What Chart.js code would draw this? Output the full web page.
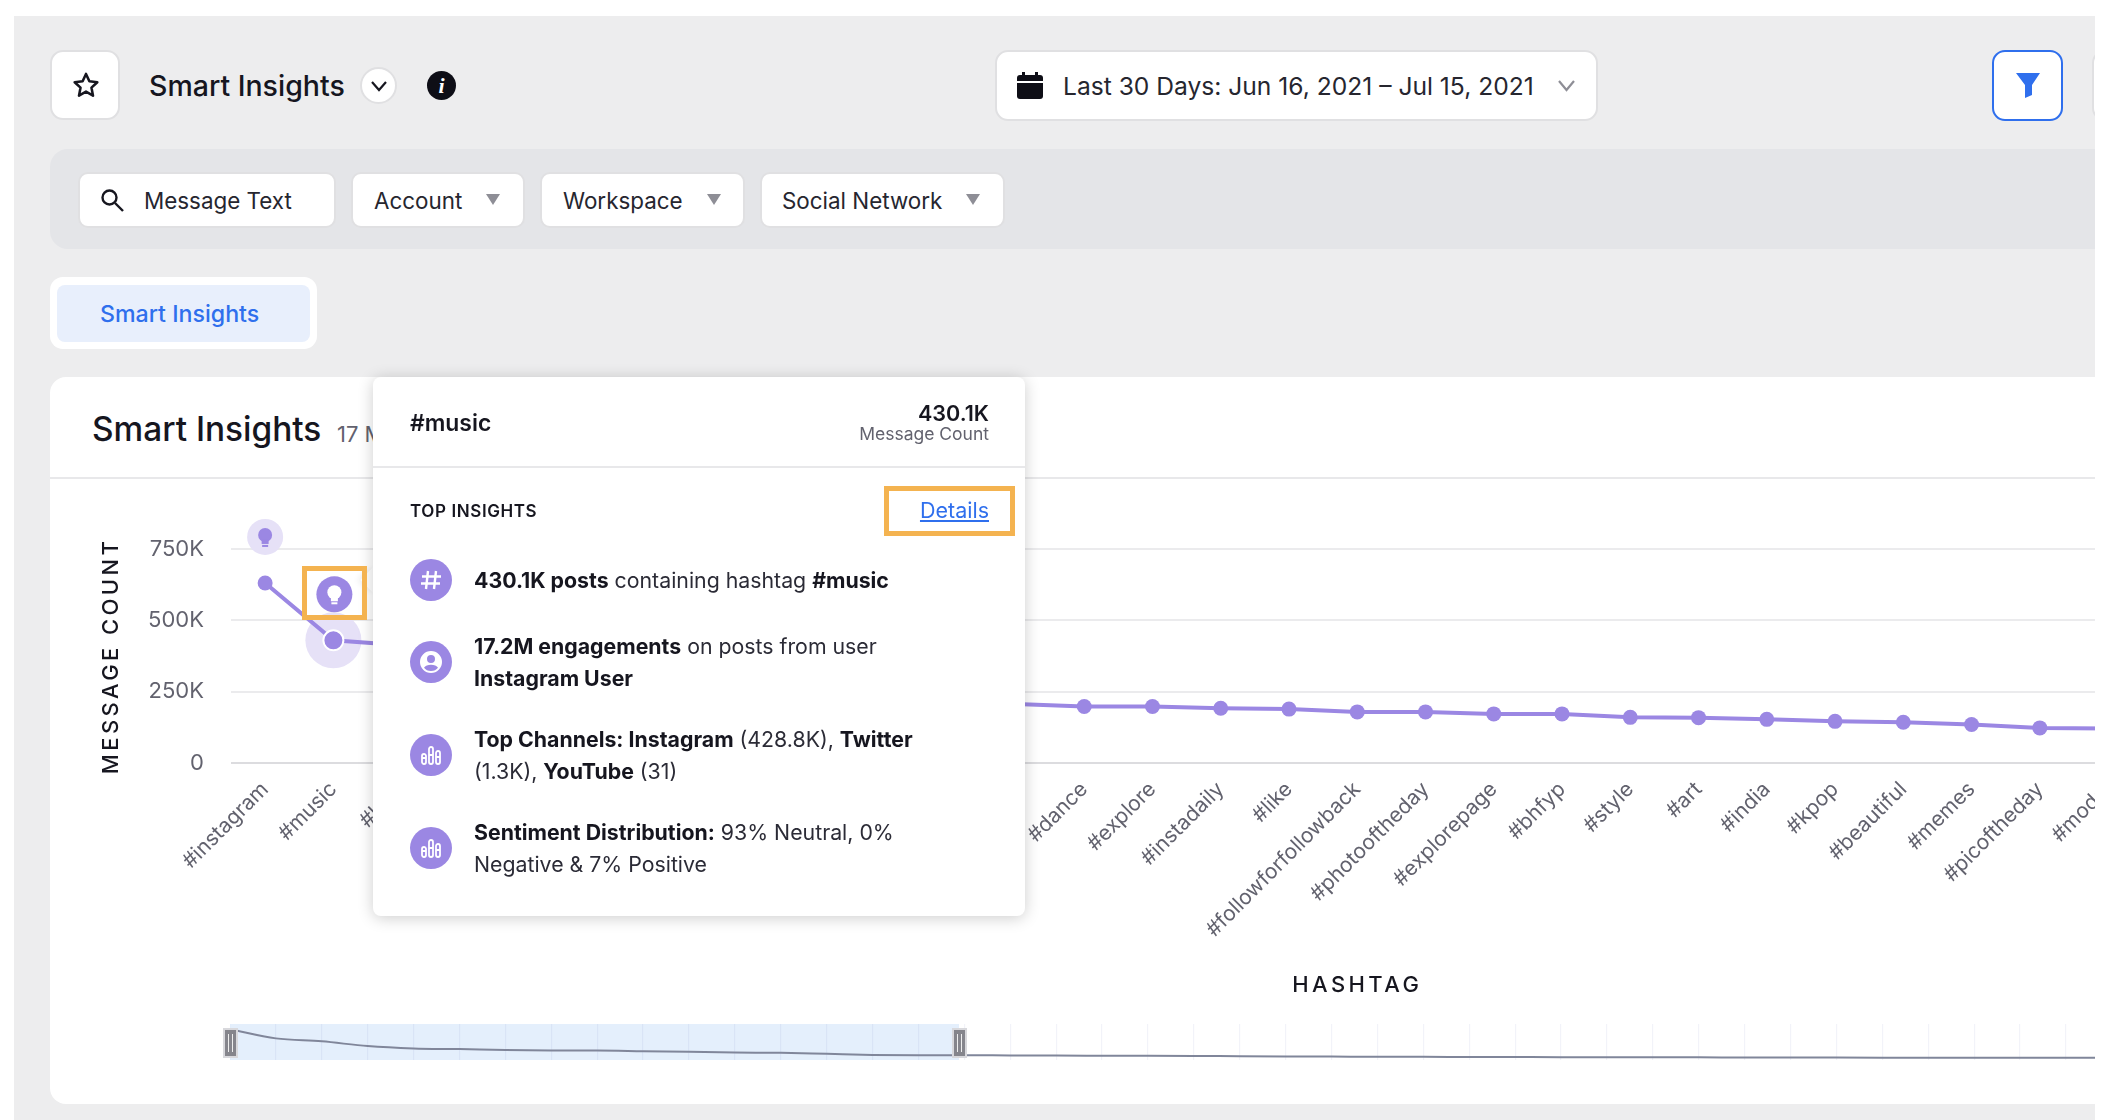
<!DOCTYPE html>
<html>
<head>
<meta charset="utf-8">
<title>Smart Insights</title>
<script src="https://cdn.jsdelivr.net/npm/chart.js@4/dist/chart.umd.js"></script>
<style>
  html, body { margin:0; padding:0; width:2112px; height:1120px; overflow:hidden; background:#fff; font-family:Inter,"Noto Sans",sans-serif; color:#16161f; }
  .abs { position:absolute; white-space:nowrap; box-sizing:border-box; }
  .box { background:#fff; border:2px solid #e0e0e2; border-radius:13px; }
  .txt { line-height:1; }
  .flt { font-size:22.4px; color:#26262f; }
  .row { font-size:21.3px; line-height:32px; color:#2b2b36; }
  .row b { font-weight:700; color:#16161f; }
  .icon { width:42px; height:42px; border-radius:50%; background:#9b87e3; left:410px; }
  .icon svg { position:absolute; left:9px; top:9px; }
  .mark { border:5px solid #f4b350; }
  canvas { display:block; }
</style>
</head>
<body>
<!-- page frame -->
<div class="abs" style="left:14px;top:16px;width:2098px;height:1104px;background:#ededee"></div>

<!-- top bar -->
<div class="abs box" style="left:50px;top:50px;width:70px;height:70px">
  <svg class="abs" style="left:20px;top:19px" width="28" height="28" viewBox="0 0 24 24" fill="none" stroke="#16161f" stroke-width="2.2" stroke-linejoin="round"><path d="M12 2.500l2.900 6.300 6.800.8-5 4.700 1.300 6.800-6-3.400-6 3.400 1.300-6.800-5-4.700 6.800-.8z"/></svg>
</div>
<div class="abs txt" style="left:149px;top:72px;font-size:28.5px;font-weight:500">Smart Insights</div>
<div class="abs" style="left:360px;top:67px;width:37px;height:37px;background:#fff;border:2px solid #e0e0e2;border-radius:50%">
  <svg class="abs" style="left:8px;top:10px" width="18" height="14" viewBox="0 0 18 14" fill="none" stroke="#16161f" stroke-width="2.2"><path d="M2 3l7 8 7-8"/></svg>
</div>
<div class="abs" style="left:427px;top:71px;width:29px;height:29px;background:#0e0e16;border-radius:50%;color:#fff;font:italic 700 22px/29px 'Liberation Serif',serif;text-align:center">i</div>

<div class="abs box" style="left:995px;top:50px;width:603px;height:71px"></div>
<svg class="abs" style="left:1017px;top:72px" width="26" height="27" viewBox="0 0 26 27" fill="#0e0e16"><rect x="5" y="0" width="3" height="5"/><rect x="18" y="0" width="3" height="5"/><path d="M3 3h20a3 3 0 0 1 3 3v3H0V6a3 3 0 0 1 3-3z"/><path d="M0 11h26v13a3 3 0 0 1-3 3H3a3 3 0 0 1-3-3z"/></svg>
<div class="abs txt" style="left:1063px;top:74px;font-size:24.6px;color:#26262f">Last 30 Days: Jun 16, 2021 – Jul 15, 2021</div>
<svg class="abs" style="left:1557px;top:79px" width="19" height="14" viewBox="0 0 19 14" fill="none" stroke="#8e8e96" stroke-width="2.200"><path d="M2 2l7.500 9L17 2"/></svg>

<div class="abs" style="left:1992px;top:50px;width:71px;height:71px;background:#fff;border:2px solid #2f6fed;border-radius:13px"></div>
<svg class="abs" style="left:2016px;top:73px" width="24" height="25" viewBox="0 0 24 25" fill="#2f6fed"><path d="M0 0h24L16 12v10l-7 3V12z"/></svg>
<div class="abs box" style="left:2092px;top:50px;width:70px;height:71px"></div>

<!-- filter bar -->
<div class="abs" style="left:50px;top:149px;width:2100px;height:100px;background:#e4e5e8;border-radius:18px"></div>
<div class="abs box" style="left:78px;top:172px;width:258px;height:56px;border-radius:10px"></div>
<svg class="abs" style="left:100px;top:188px" width="25" height="24" viewBox="0 0 25 24" fill="none" stroke="#16161f" stroke-width="2.4"><circle cx="9.500" cy="9.500" r="7"/><path d="M15 15l8 8"/></svg>
<div class="abs txt flt" style="left:144px;top:190px">Message Text</div>
<div class="abs box" style="left:351px;top:172px;width:174px;height:56px;border-radius:10px"></div>
<div class="abs txt flt" style="left:374px;top:190px">Account</div>
<svg class="abs" style="left:486px;top:194px" width="14" height="11"><path d="M0 0h14L7 11z" fill="#8e8e96"/></svg>
<div class="abs box" style="left:540px;top:172px;width:205px;height:56px;border-radius:10px"></div>
<div class="abs txt flt" style="left:563px;top:190px">Workspace</div>
<svg class="abs" style="left:707px;top:194px" width="14" height="11"><path d="M0 0h14L7 11z" fill="#8e8e96"/></svg>
<div class="abs box" style="left:760px;top:172px;width:245px;height:56px;border-radius:10px"></div>
<div class="abs txt flt" style="left:782px;top:190px">Social Network</div>
<svg class="abs" style="left:966px;top:194px" width="14" height="11"><path d="M0 0h14L7 11z" fill="#8e8e96"/></svg>

<!-- tab -->
<div class="abs" style="left:50px;top:277px;width:267px;height:72px;background:#fff;border-radius:13px"></div>
<div class="abs" style="left:57px;top:285px;width:253px;height:57px;background:#e8effc;border-radius:8px"></div>
<div class="abs txt" style="left:100px;top:303px;font-size:23.2px;font-weight:500;color:#2f6fed">Smart Insights</div>

<!-- card -->
<div class="abs" style="left:50px;top:377px;width:2100px;height:727px;background:#fff;border-radius:16px"></div>
<div class="abs txt" style="left:92px;top:413px;font-size:33.4px;font-weight:500;color:#16161f">Smart Insights</div>
<div class="abs txt" style="left:337px;top:423px;font-size:22px;color:#62626e">17 M</div>
<div class="abs" style="left:50px;top:477px;width:2062px;height:2px;background:#e8e8ea"></div>

<!-- main chart -->
<div class="abs" style="left:60px;top:500px;width:2431px;height:510px"><canvas id="mainChart" width="2431" height="510"></canvas></div>

<!-- overview strip -->
<div class="abs" style="left:230px;top:1024px;width:729px;height:36px;background:#e4effc"></div>
<div class="abs" style="left:230px;top:1024px;width:2249px;height:36px"><canvas id="overviewChart" width="2249" height="36"></canvas></div>
<div class="abs" style="left:223px;top:1028px;width:15px;height:30px;background:#85858c;border:2px solid #d8d8dc"><div class="abs" style="left:3px;top:4px;width:5px;height:18px;border:1px solid #eee;border-width:0 1px"></div></div>
<div class="abs" style="left:952px;top:1028px;width:15px;height:30px;background:#85858c;border:2px solid #d8d8dc"><div class="abs" style="left:3px;top:4px;width:5px;height:18px;border:1px solid #eee;border-width:0 1px"></div></div>

<!-- insight marker highlight -->
<div class="abs" style="left:364px;top:571px;width:18px;height:18px;background:#fff;transform:rotate(45deg);box-shadow:-2px 2px 6px rgba(0,0,0,.08)"></div>

<!-- tooltip -->
<div class="abs" style="left:373px;top:377px;width:652px;height:539px;background:#fff;border-radius:8px;box-shadow:0 2px 16px rgba(0,0,0,.2)"></div>
<div class="abs txt" style="left:410px;top:412px;font-size:22.9px;font-weight:600">#music</div>
<div class="abs txt" style="left:889px;width:100px;top:403px;text-align:right;font-size:21.6px;font-weight:600">430.1K</div>
<div class="abs txt" style="left:839px;width:150px;top:425px;text-align:right;font-size:17.5px;color:#62626e">Message Count</div>
<div class="abs" style="left:373px;top:466px;width:652px;height:2px;background:#e8e8ea"></div>
<div class="abs txt" style="left:410px;top:503px;font-size:17px;font-weight:600;letter-spacing:.6px">TOP INSIGHTS</div>
<div class="abs txt" style="left:889px;width:100px;top:500px;text-align:right;font-size:21.5px;color:#2f6fed;text-decoration:underline">Details</div>
<div class="abs mark" style="left:884px;top:486px;width:131px;height:50px"></div>
<div class="abs mark" style="left:302px;top:566px;width:65px;height:54px"></div>

<div class="abs icon" style="top:559px"><svg width="24" height="24" viewBox="0 0 24 24" fill="none" stroke="#fff" stroke-width="2.400"><path d="M9 3L7 21M17 3l-2 18M3 8.500h19M2 15.500h19"/></svg></div>
<div class="abs row" style="left:474px;top:564px"><b>430.1K posts</b> containing hashtag <b>#music</b></div>

<div class="abs icon" style="top:641px"><svg width="24" height="24" viewBox="0 0 24 24" fill="#fff"><path fill-rule="evenodd" d="M12 1a11 11 0 1 0 0 22 11 11 0 0 0 0-22zm0 4a4 4 0 1 1 0 8 4 4 0 0 1 0-8zm0 16c-3 0-5.500-1.300-7-3.300 1-2 4-3 7-3s6 1 7 3c-1.500 2-4 3.300-7 3.300z"/></svg></div>
<div class="abs row" style="left:474px;top:630px"><b>17.2M engagements</b> on posts from user</div>
<div class="abs row" style="left:474px;top:662px"><b>Instagram User</b></div>

<div class="abs icon" style="top:734px"><svg width="24" height="24" viewBox="0 0 24 24" fill="none" stroke="#fff" stroke-width="1.800"><rect x="3" y="11" width="4" height="10" rx="2"/><rect x="10" y="4" width="4" height="17" rx="2"/><rect x="17" y="8" width="4" height="13" rx="2"/><path d="M3 15h4M10 12h4M17 14h4"/></svg></div>
<div class="abs row" style="left:474px;top:723px"><b>Top Channels: Instagram</b> (428.8K), <b>Twitter</b></div>
<div class="abs row" style="left:474px;top:755px">(1.3K), <b>YouTube</b> (31)</div>

<div class="abs icon" style="top:827px"><svg width="24" height="24" viewBox="0 0 24 24" fill="none" stroke="#fff" stroke-width="1.800"><rect x="3" y="11" width="4" height="10" rx="2"/><rect x="10" y="4" width="4" height="17" rx="2"/><rect x="17" y="8" width="4" height="13" rx="2"/><path d="M3 15h4M10 12h4M17 14h4"/></svg></div>
<div class="abs row" style="left:474px;top:816px"><b>Sentiment Distribution:</b> 93% Neutral, 0%</div>
<div class="abs row" style="left:474px;top:848px">Negative &amp; 7% Positive</div>

<!-- the screenshot stops here, white strip on the right -->
<div class="abs" style="left:2095px;top:0;width:17px;height:1120px;background:#fff;z-index:50"></div>

<script>
/* --------- data ------------------------------- */
// names under the tooltip can't be read, they stay blank; last 5 slots are past the window edge
const hashtags = ['#instagram','#music','#love','','','','','','','','','',
  '#dance','#explore','#instadaily','#like','#followforfollowback','#photooftheday','#explorepage',
  '#bhfyp','#style','#art','#india','#kpop','#beautiful','#memes','#picoftheday','#model',
  '','','','',''];
// idx 2-11 sit behind the tooltip, estimated from the line either side and the overview strip
const messageCounts = [631000,430100,413000,398000,320000,280000,262000,250000,240000,230000,220000,207000,
  198000,198000,192000,189000,179000,179000,172000,172000,160000,159000,153000,146000,143000,135000,123000,121000,
  null,null,null,null,null];
const yTicks = [0,250000,500000,750000];
const yTickLabels = ['0','250K','500K','750K'];
const overviewCounts = [631000,430000,365000,261000,209000,194000,172000,164000,164000,149000,134000,119000,112000,90000,67000,60000,
  60000,55000,52000,50000,48000,44000,38000,33000,30000,26000,25000,22000,20000,18000,17000,15000,13000,12000,10000,8000,
  7000,7000,6000,6000,5000,5000,5000,4000,4000,4000,3000,3000,3000,3000];
const insightIdx = [0,1];   // points that carry a bulb
const activeIdx = 1;        // #music

const PURPLE = '#9b87e3';
const PALE = '#e6e1f7';

/* ------- bulbs + halo over the points ------- */
function drawBulb(ctx, x, y, bg, fg) {
  ctx.fillStyle = bg;
  ctx.beginPath(); ctx.arc(x, y, 18, 0, Math.PI*2); ctx.fill();
  ctx.fillStyle = fg;
  ctx.beginPath(); ctx.arc(x, y-2, 7, 0, Math.PI*2); ctx.fill();
  ctx.fillRect(x-3.5, y+3, 7, 4);
  ctx.fillRect(x-3, y+8, 6, 2);
}

const insightPlugin = {
  id:'insightPlugin',
  afterLayout(chart) {
    // canvas letterSpacing only for the two axis titles
    Object.values(chart.scales).forEach(s => {
      if (s._spaced) return;
      const orig = s.drawTitle;
      s.drawTitle = function() {
        chart.ctx.letterSpacing = '3.4px';
        orig.call(s);
        chart.ctx.letterSpacing = '0px';
      };
      s._spaced = true;
    });
  },
  beforeDatasetsDraw(chart) {
    const pt = chart.getDatasetMeta(0).data[activeIdx];
    chart.ctx.fillStyle = PALE;
    chart.ctx.beginPath(); chart.ctx.arc(pt.x, pt.y, 28, 0, Math.PI*2); chart.ctx.fill();
  },
  afterDatasetsDraw(chart) {
    const pts = chart.getDatasetMeta(0).data;
    insightIdx.forEach(i => {
      if (i === activeIdx) drawBulb(chart.ctx, pts[i].x+1, pts[i].y-46, PURPLE, '#fff');
      else drawBulb(chart.ctx, pts[i].x, pts[i].y-46, PALE, PURPLE);
    });
  }
};

/* ------- Charts init ------- */
new Chart(document.getElementById('mainChart'), {
  type:'line',
  data:{ labels:hashtags, datasets:[{
    data:messageCounts, borderColor:PURPLE, backgroundColor:PURPLE, borderWidth:4, tension:0,
    pointRadius:ctx => ctx.dataIndex===activeIdx ? 10 : 7.5,
    pointBorderWidth:ctx => ctx.dataIndex===activeIdx ? 2 : 0,
    pointBorderColor:'#fff'
  }]},
  options:{
    responsive:false, animation:false,
    layout:{ padding:{ top:49, left:0, right:0, bottom:0 } },
    plugins:{ legend:{ display:false }, tooltip:{ enabled:false } },
    scales:{
      x:{
        offset:true,
        grid:{ display:false }, border:{ display:false },
        ticks:{ autoSkip:false, maxRotation:45, minRotation:45, padding:6, color:'#62626e', font:{ family:'Inter', size:21 } },
        title:{ display:true, text:'HASHTAG', color:'#16161f', font:{ family:'Inter', size:22, weight:'500' }, padding:{ top:0, bottom:11 } },
        afterFit:s => { s.height = 247; }
      },
      y:{
        min:0, max:750000,
        afterBuildTicks:s => { s.ticks = yTicks.map(v => ({ value:v })); },
        grid:{ color:c => c.tick.value===0 ? '#dcdcdf' : '#ebebed', lineWidth:2, tickLength:0, drawTicks:false },
        border:{ display:false },
        ticks:{ padding:27, color:'#62626e', font:{ family:'Inter', size:22 },
          callback:v => yTickLabels[yTicks.indexOf(v)] },
        title:{ display:true, text:'MESSAGE COUNT', color:'#16161f', font:{ family:'Inter', size:22, weight:'500' }, padding:{ top:38, bottom:0 } },
        afterFit:s => { s.width = 171; }
      }
    }
  },
  plugins:[insightPlugin]
});

new Chart(document.getElementById('overviewChart'), {
  type:'line',
  data:{ labels:overviewCounts.map((v,i) => i), datasets:[{
    data:overviewCounts, borderColor:'#80869a', borderWidth:2, pointRadius:0, cubicInterpolationMode:'monotone'
  }]},
  options:{
    responsive:false, animation:false,
    plugins:{ legend:{ display:false }, tooltip:{ enabled:false } },
    scales:{
      x:{ display:true, offset:false, border:{ display:false }, ticks:{ display:false },
        grid:{ color:'rgba(110,120,190,.09)', lineWidth:1.2, drawTicks:false },
        afterFit:s => { s.height = 0; } },
      y:{ display:false, min:-45000, max:746000 }
    }
  }
});
</script>
</body>
</html>
